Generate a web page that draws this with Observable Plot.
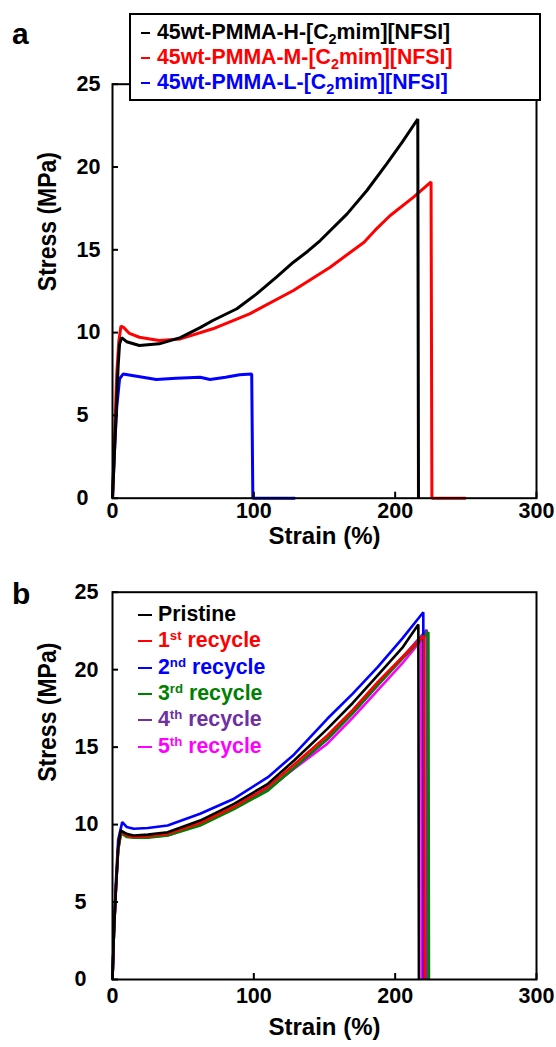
<!DOCTYPE html>
<html><head><meta charset="utf-8">
<script src="https://cdn.jsdelivr.net/npm/d3@7"></script>
<script src="https://cdn.jsdelivr.net/npm/@observablehq/plot@0.6"></script>
<style>
body{margin:0;background:#fff;font-family:"Liberation Sans",Arial,sans-serif;}
#wrap{position:relative;width:556px;height:1047px;overflow:hidden;}
.panel{position:absolute;left:0;}
.plab{position:absolute;font-weight:bold;font-size:30px;line-height:1;transform:translateY(-50%);}
.legA{position:absolute;left:129px;top:13px;width:412px;height:88px;border:2px solid #000;background:#fff;box-sizing:border-box;}
.row{position:absolute;font-weight:bold;white-space:nowrap;line-height:1;transform:translateY(-50%);}
.dash{position:absolute;height:2px;}
sub{font-size:0.68em;vertical-align:-0.3em;line-height:0;}
sup{font-size:0.62em;vertical-align:0.55em;line-height:0;}
</style></head>
<body><div id="wrap"></div>
<script>
// ---------- Panel a data ----------
const aNames  = ["45wt-PMMA-H-[C<sub>2</sub>mim][NFSI]","45wt-PMMA-M-[C<sub>2</sub>mim][NFSI]","45wt-PMMA-L-[C<sub>2</sub>mim][NFSI]"];
const aColors = ["#000000","#ff0000","#0000ff"];
const aH_strain = [0,1,2,3,4,5,6.4,10,19,33,48,62,71,88,102,116,128,138,147,166,180,194,205,216,216.5];
const aH_stress = [0,2,4,6,8,9.3,9.7,9.45,9.22,9.32,9.7,10.3,10.73,11.44,12.34,13.35,14.25,14.9,15.56,17.17,18.58,20.19,21.5,22.9,0];
const aM_strain = [0,1,2,3,4.5,6,8,12,19,33,48,71,97,128,154,178,186,196.5,213,225.4,226,250];
const aM_stress = [0,2.5,5,7.5,9.5,10.4,10.3,9.95,9.72,9.52,9.62,10.23,11.13,12.54,13.95,15.46,16.2,17.07,18.18,19.1,0,0];
const aL_strain = [0,1.5,3,5,7.5,15,31,45,62,69,80,90,98.5,99.3,129.3];
const aL_stress = [0,3,5.5,7.2,7.5,7.4,7.17,7.25,7.3,7.17,7.3,7.45,7.5,0,0];

// ---------- Panel b data ----------
const bNames  = ["Pristine","1<sup>st</sup> recycle","2<sup>nd</sup> recycle","3<sup>rd</sup> recycle","4<sup>th</sup> recycle","5<sup>th</sup> recycle"];
const bColors = ["#000000","#ff0000","#0000ff","#008000","#7030a0","#ff00ff"];
const b0_strain = [0,1,2.5,4,5.7,10,15,25,39,62,86,110,128.5,152,170,187.6,205,216.4,216.8];
const b0_stress = [0,3,6,8.5,9.62,9.4,9.3,9.35,9.51,10.26,11.34,12.63,14.14,16.18,17.85,19.63,21.4,22.92,0];
const b1_strain = [0,1,2.5,4,6,10,15,25,39,62,86,110,128.5,152,170,187.6,205,220.5,220.9];
const b1_stress = [0,3,6,8.5,9.55,9.3,9.2,9.25,9.4,10.1,11.15,12.45,13.88,15.75,17.4,19.19,20.8,22.2,0];
const b2_strain = [0,1,2.5,4,6.9,10,15,25,39,62,86,110,128.5,152,170,187.6,205,219.9,220.3];
const b2_stress = [0,3,6.5,9,10.16,9.85,9.73,9.78,9.94,10.7,11.67,13.06,14.53,16.83,18.45,20.16,22.0,23.71,0];
const b3_strain = [0,1,2.5,4,6,10,15,25,39,62,86,110,128.5,152,170,187.6,205,223.5,223.9];
const b3_stress = [0,3,6,8.3,9.45,9.2,9.15,9.15,9.3,9.94,11.0,12.2,13.67,15.54,17.2,18.98,20.7,22.42,0];
const b4_strain = [0,1,2.5,4,6,10,15,25,39,62,86,110,128.5,152,170,187.6,205,222.3,222.6];
const b4_stress = [0,3,6,8.4,9.5,9.25,9.2,9.2,9.35,10.0,11.05,12.25,13.65,15.5,17.2,19.0,20.8,22.57,0];
const b5_strain = [0,1,2.5,4,6,10,15,25,39,62,86,110,128.5,152,170,187.6,205,218.5,218.8];
const b5_stress = [0,3,6,8.4,9.5,9.25,9.2,9.2,9.3,10.0,11.1,12.3,13.6,15.22,16.9,18.66,20.4,21.9,0];

// ---------- Axes ----------
const xTicks = [0,100,200,300];
const yTicks = [0,5,10,15,20,25];
const xTitle = "Strain (%)";
const yTitle = "Stress (MPa)";

const FONT = "Liberation Sans, Arial, sans-serif";
const rows = (s, v) => s.map((x, i) => ({strain: x, stress: v[i]}));

function panel(series, colors, order, o) {
  const marks = [];
  for (const i of order) {
    marks.push(Plot.line(series[i], {x: "strain", y: "stress", stroke: colors[i], strokeWidth: o.sw, strokeLinejoin: "miter", strokeLinecap: "butt"}));
  }
  marks.push(Plot.frame({stroke: "#000", strokeWidth: 2}));
  marks.push(Plot.axisX({ticks: xTicks, tickSize: -6, strokeWidth: 2, label: null, tickFormat: () => ""}));
  marks.push(Plot.axisY({ticks: yTicks, tickSize: -6, strokeWidth: 2, label: null, tickFormat: () => ""}));
  marks.push(Plot.text(xTicks, {x: d => d, text: d => String(d), frameAnchor: "bottom", dy: o.xLabDy, fontSize: 21.5, fontWeight: "bold", fill: "#000"}));
  marks.push(Plot.text(yTicks, {y: d => d, text: d => String(d), frameAnchor: "left", dx: o.yLabDx, textAnchor: "start", fontSize: 21.5, fontWeight: "bold", fill: "#000"}));
  marks.push(Plot.text([xTitle], {frameAnchor: "bottom", dy: o.xTitleDy, fontSize: 24, fontWeight: "bold", fill: "#000"}));
  marks.push(Plot.text([yTitle], {frameAnchor: "left", dx: -65, dy: o.yTitleDy, rotate: -90, fontSize: 23, fontWeight: "bold", fill: "#000"}));
  return Plot.plot({
    width: 556, height: o.height,
    marginLeft: 112, marginRight: 20, marginTop: o.mt, marginBottom: o.mb,
    x: {domain: [0, 300]}, y: {domain: [0, 25]},
    style: {fontFamily: FONT, background: "transparent", color: "#000", overflow: "visible"},
    marks
  });
}

// widen glyphs of the rotated title (reference is slightly stretched horizontally)
function stretchRotated(svg, k) {
  svg.querySelectorAll("text").forEach(t => {
    const tr = t.getAttribute("transform") || "";
    if (!tr.includes("rotate")) return;
    const b = t.getBBox();
    const cx = b.x + b.width / 2, cy = b.y + b.height / 2;
    t.setAttribute("transform", `${tr} translate(${cx},${cy}) scale(1,${k}) translate(${-cx},${-cy})`);
  });
}

const wrap = document.getElementById("wrap");

// Panel a
const seriesA = [rows(aH_strain, aH_stress), rows(aM_strain, aM_stress), rows(aL_strain, aL_stress)];
const svgA = panel(seriesA, aColors, [2, 1, 0], {height: 560, mt: 83.7, mb: 62.3, sw: 3, xLabDy: 20, yLabDx: -36, xTitleDy: 46, yTitleDy: 0});
svgA.classList.add("panel"); svgA.style.top = "0px";
wrap.appendChild(svgA);
stretchRotated(svgA, 1.1);

// Panel b
const seriesB = [rows(b0_strain, b0_stress), rows(b1_strain, b1_stress), rows(b2_strain, b2_stress),
                 rows(b3_strain, b3_stress), rows(b4_strain, b4_stress), rows(b5_strain, b5_stress)];
const svgB = panel(seriesB, bColors, [5, 4, 3, 2, 1, 0], {height: 487, mt: 31.7, mb: 68, sw: 2.6, xLabDy: 23, yLabDx: -38, xTitleDy: 55, yTitleDy: -4});
svgB.classList.add("panel"); svgB.style.top = "560px";
wrap.appendChild(svgB);
stretchRotated(svgB, 1.1);

// Panel letters
function addLabel(t, x, y) {
  const d = document.createElement("div"); d.className = "plab"; d.textContent = t;
  d.style.left = x + "px"; d.style.top = y + "px"; wrap.appendChild(d);
}
addLabel("a", 12, 34);
addLabel("b", 12, 594);

// Legend a (boxed)
const box = document.createElement("div"); box.className = "legA"; wrap.appendChild(box);
aNames.forEach((n, i) => {
  const y = 33 + i * 25;
  const dsh = document.createElement("div"); dsh.className = "dash";
  Object.assign(dsh.style, {left: "141px", top: (y - 1) + "px", width: "9px", background: aColors[i]});
  wrap.appendChild(dsh);
  const r = document.createElement("div"); r.className = "row"; r.innerHTML = n;
  Object.assign(r.style, {left: "157px", top: y + "px", color: aColors[i], fontSize: "21.3px"});
  wrap.appendChild(r);
});

// Legend b
bNames.forEach((n, i) => {
  const y = 615 + i * 26.3;
  const dsh = document.createElement("div"); dsh.className = "dash";
  Object.assign(dsh.style, {left: "138px", top: (y - 1) + "px", width: "14px", background: bColors[i]});
  wrap.appendChild(dsh);
  const r = document.createElement("div"); r.className = "row"; r.innerHTML = n;
  Object.assign(r.style, {left: "158px", top: y + "px", color: bColors[i], fontSize: "21.3px"});
  wrap.appendChild(r);
});
</script></body></html>
